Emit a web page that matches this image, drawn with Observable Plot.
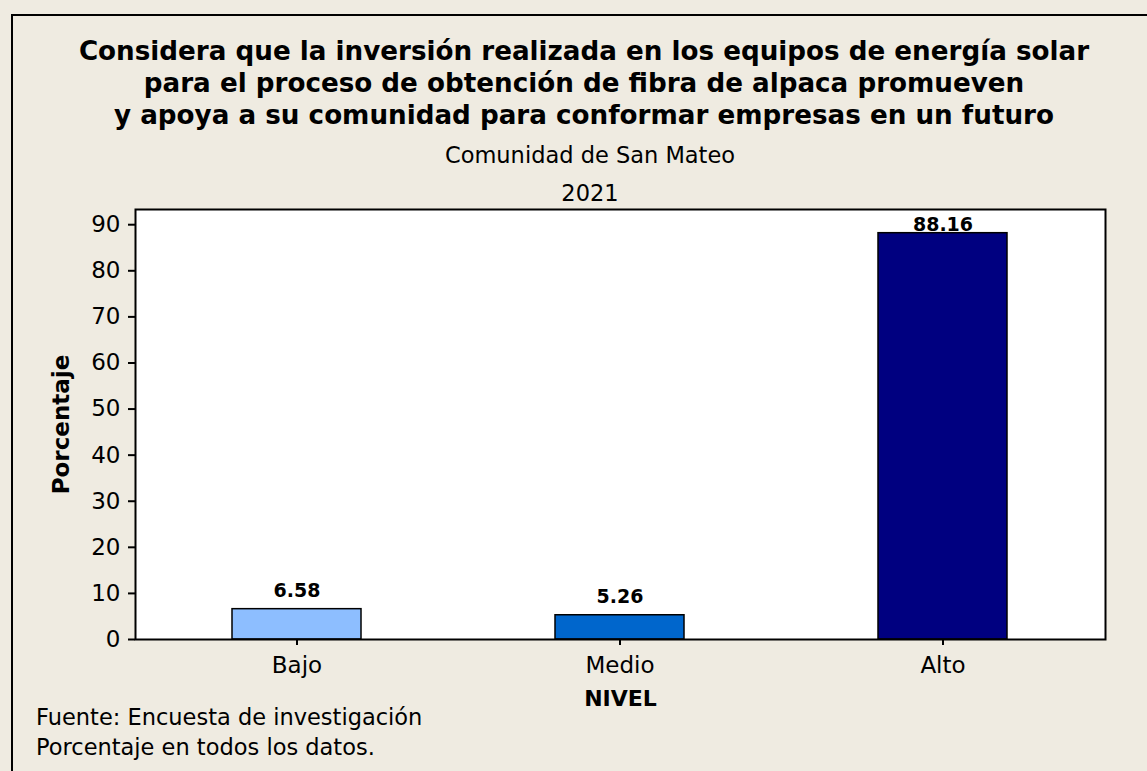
<!DOCTYPE html>
<html>
<head>
<meta charset="utf-8">
<script src="https://cdn.jsdelivr.net/npm/d3@7"></script>
<script src="https://cdn.jsdelivr.net/npm/@observablehq/plot@0.6"></script>
<style>
  html, body { margin: 0; padding: 0; }
  body { width: 1147px; height: 771px; background: #EFEBE1; position: relative; overflow: hidden;
         font-family: "DejaVu Sans", sans-serif; color: #000; }
  #frame { position: absolute; left: 11px; top: 14px; width: 1200px; height: 800px;
           border-left: 2px solid #000; border-top: 2px solid #000; box-sizing: border-box; }
  .t { position: absolute; white-space: nowrap; line-height: 1; }
  .title { left: 0; width: 1168px; text-align: center; font-weight: bold; font-size: 26.2px; }
  .sub { left: 0; width: 1180px; text-align: center; font-size: 22.5px; }
  .foot { left: 36px; font-size: 22.5px; }
  #chart { position: absolute; left: 0; top: 0; }
</style>
</head>
<body>
<div id="frame"></div>
<div id="chart"></div>
<div class="t title" style="top:38px">Considera que la inversión realizada en los equipos de energía solar</div>
<div class="t title" style="top:70px">para el proceso de obtención de fibra de alpaca promueven</div>
<div class="t title" style="top:102px">y apoya a su comunidad para conformar empresas en un futuro</div>
<div class="t sub" style="top:144px">Comunidad de San Mateo</div>
<div class="t sub" style="top:182px">2021</div>
<div class="t foot" style="top:706px">Fuente: Encuesta de investigación</div>
<div class="t foot" style="top:736px">Porcentaje en todos los datos.</div>
<script>
const niveles = ["Bajo", "Medio", "Alto"];
const porcentajes = [6.58, 5.26, 88.16];
const colores = ["#8DBEFF", "#0066CC", "#000080"];
const yTicks = [0, 10, 20, 30, 40, 50, 60, 70, 80, 90];
const yLabel = "Porcentaje";
const xLabel = "NIVEL";

const data = niveles.map((n, i) => ({nivel: n, valor: porcentajes[i], color: colores[i]}));
const yMax = 93.3;

const chart = Plot.plot({
  width: 1147,
  height: 771,
  marginLeft: 135,
  marginRight: 42,
  marginTop: 209,
  marginBottom: 132,
  style: {background: "transparent", fontFamily: "DejaVu Sans, sans-serif", fontSize: "22px", color: "#000"},
  x: {domain: niveles, paddingInner: 0.6, paddingOuter: 0.3, label: null},
  y: {domain: [0, yMax], label: null},
  marks: [
    Plot.frame({fill: "white"}),
    Plot.barY(data, {x: "nivel", y: "valor", fill: "color", stroke: "black", strokeWidth: 1.5}),
    Plot.text(data, {x: "nivel", y: d => Math.min(d.valor + 2.6, yMax - 4.6), text: d => d.valor.toFixed(2),
      fontWeight: "bold", fontSize: 19, lineAnchor: "bottom", fill: "black"}),
    Plot.axisY({ticks: yTicks, tickSize: 7, tickPadding: 8, fontSize: 23, label: null, strokeWidth: 2}),
    Plot.axisX({tickSize: 6, tickPadding: 11, fontSize: 23, label: null, strokeWidth: 2}),
    Plot.frame({stroke: "black", strokeWidth: 2}),
    Plot.text([yLabel], {frameAnchor: "left", dx: -74, rotate: -90, textAnchor: "middle", fontWeight: "bold", fontSize: 23, fill: "black"}),
    Plot.text([xLabel], {frameAnchor: "bottom", dy: 66, fontWeight: "bold", fontSize: 22, fill: "black"})
  ]
});
document.getElementById("chart").appendChild(chart);
</script>
</body>
</html>
